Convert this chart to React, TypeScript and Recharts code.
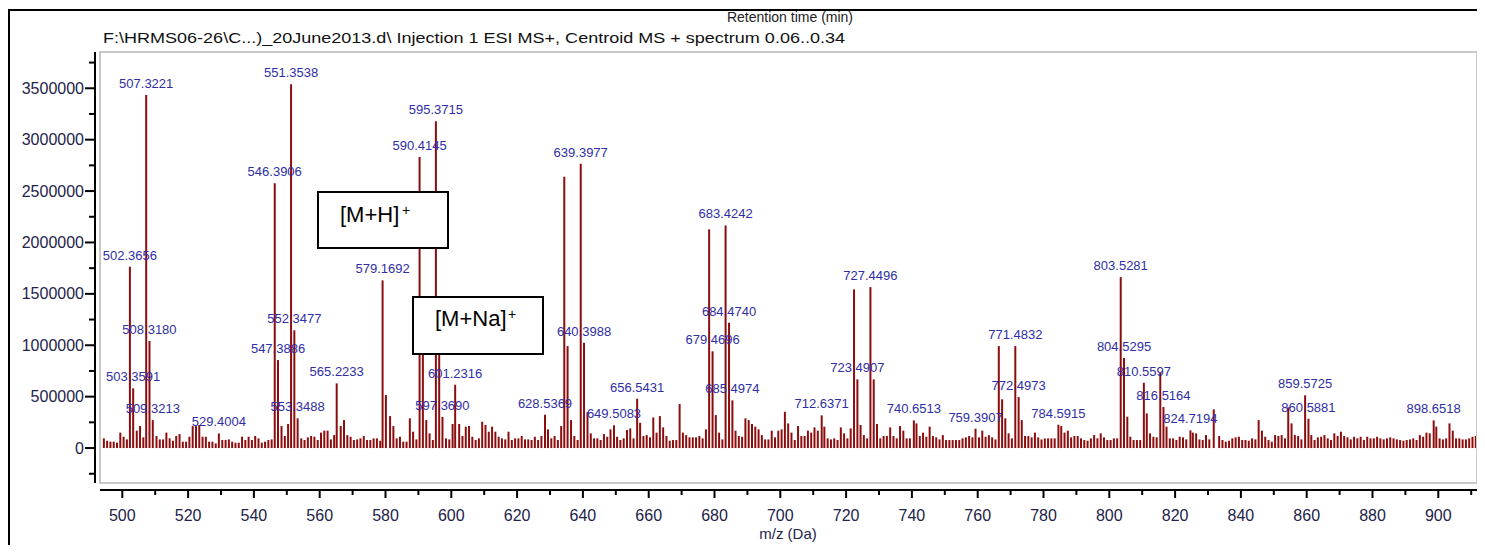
import { ComposedChart, Bar, XAxis, YAxis, LabelList } from 'recharts'

// small sticks, one per nominal mass starting at 494 (intensity in thousands, 0 = a main peak sits there)
const NOISE_FROM = 494
const NOISE_K = [
  94, 71, 62, 62, 52, 150, 110, 84, 0, 0,
  169, 214, 104, 0, 0, 0, 117, 84, 84, 150,
  94, 71, 117, 136, 62, 62, 110, 214, 214, 224,
  110, 110, 62, 62, 45, 0, 78, 78, 84, 62,
  52, 52, 110, 78, 110, 78, 117, 94, 52, 62,
  78, 84, 0, 0, 214, 117, 234, 0, 0, 0,
  94, 78, 104, 117, 110, 78, 150, 169, 169, 84,
  126, 0, 214, 272, 126, 110, 78, 84, 94, 117,
  78, 78, 94, 94, 71, 0, 0, 311, 214, 94,
  110, 62, 62, 289, 159, 84, 0, 0, 272, 143,
  78, 0, 0, 0, 94, 84, 234, 0, 234, 117,
  208, 214, 110, 78, 94, 256, 224, 159, 208, 159,
  110, 94, 84, 159, 78, 94, 94, 117, 84, 84,
  78, 110, 78, 117, 0, 182, 94, 117, 78, 214,
  0, 0, 272, 117, 78, 0, 0, 350, 143, 94,
  94, 78, 136, 110, 182, 0, 110, 78, 94, 175,
  191, 94, 0, 246, 117, 126, 104, 298, 150, 311,
  201, 117, 71, 78, 78, 428, 150, 126, 104, 104,
  104, 117, 94, 182, 0, 0, 321, 150, 84, 0,
  0, 0, 169, 117, 110, 289, 272, 234, 208, 182,
  126, 84, 84, 169, 104, 169, 182, 353, 240, 150,
  78, 214, 117, 117, 169, 150, 201, 169, 0, 208,
  94, 84, 94, 78, 201, 143, 94, 191, 0, 0,
  224, 126, 94, 0, 0, 234, 94, 117, 117, 201,
  117, 94, 214, 169, 94, 94, 0, 240, 117, 150,
  110, 208, 117, 104, 84, 126, 78, 78, 78, 78,
  78, 94, 104, 117, 104, 0, 104, 169, 110, 126,
  104, 84, 0, 0, 289, 143, 94, 0, 0, 272,
  117, 117, 104, 150, 104, 84, 94, 94, 94, 94,
  0, 214, 150, 169, 104, 117, 117, 94, 78, 71,
  94, 126, 94, 143, 104, 78, 78, 94, 94, 0,
  0, 0, 110, 78, 78, 78, 0, 337, 143, 110,
  104, 0, 0, 208, 94, 94, 78, 110, 104, 84,
  0, 150, 143, 84, 78, 126, 84, 0, 0, 117,
  78, 62, 71, 94, 104, 110, 78, 78, 71, 94,
  84, 272, 169, 110, 78, 62, 126, 117, 126, 94,
  396, 240, 126, 117, 84, 0, 0, 126, 78, 104,
  110, 126, 94, 78, 143, 117, 159, 117, 104, 84,
  110, 94, 110, 78, 110, 94, 94, 110, 94, 84,
  94, 104, 94, 84, 78, 71, 78, 84, 94, 78,
  126, 110, 150, 143, 0, 208, 94, 84, 94, 240,
  169, 94, 94, 84, 84, 94, 110, 117,
]

// labelled peaks
const LABELED_MZ = [
  502.3656, 503.3591, 507.3221, 508.318, 509.3213, 529.4004, 546.3906, 547.3886, 551.3538, 552.3477,
  553.3488, 565.2233, 579.1692, 590.4145, 595.3715, 597.369, 601.2316, 628.5369, 639.3977, 640.3988,
  649.5083, 656.5431, 679.4696, 683.4242, 684.474, 685.4974, 712.6371, 723.4907, 727.4496, 740.6513,
  759.3907, 771.4832, 772.4973, 784.5915, 803.5281, 804.5295, 810.5597, 816.5164, 824.7194, 859.5725,
  860.5881, 898.6518,
]
const LABELED_INT = [
  1764000, 581000, 3434000, 1041000, 272000, 142000, 2575000, 856000, 3538000, 1145000,
  289000, 629000, 1631000, 2831000, 3178000, 302000, 616000, 324000, 2766000, 1024000,
  221000, 480000, 941000, 2166000, 1219000, 464000, 318000, 668000, 1566000, 269000,
  188000, 992000, 496000, 227000, 1663000, 876000, 635000, 399000, 172000, 513000,
  285000, 269000,
]

// tall peaks without a visible label
const OTHER_MZ = [580.172, 591.418, 596.375, 634.395, 635.398, 678.425, 722.47, 728.451, 766.47, 767.475, 805.53, 815.55, 831.8]
const OTHER_INT = [516000, 1130000, 1160000, 2640000, 992000, 2128000, 1544000, 668000, 992000, 474000, 305000, 736000, 376000]

const X_TICKS = [500, 510, 520, 530, 540, 550, 560, 570, 580, 590, 600, 610, 620, 630, 640, 650, 660, 670, 680, 690, 700,
  710, 720, 730, 740, 750, 760, 770, 780, 790, 800, 810, 820, 830, 840, 850, 860, 870, 880, 890, 900, 910]
const Y_TICKS = [-250000, 0, 250000, 500000, 750000, 1000000, 1250000, 1500000, 1750000, 2000000, 2250000,
  2500000, 2750000, 3000000, 3250000, 3500000, 3750000]

const spectrum = [
  ...NOISE_K.map((k, i) => ({ mz: NOISE_FROM + i + 0.45, intensity: k * 1000 })).filter((d) => d.intensity > 0),
  ...OTHER_MZ.map((mz, i) => ({ mz, intensity: OTHER_INT[i] })),
  ...LABELED_MZ.map((mz, i) => ({ mz, intensity: LABELED_INT[i], label: mz.toFixed(4) })),
].sort((a, b) => a.mz - b.mz)

const FONT = "'Liberation Sans', Arial, sans-serif"
const AXIS_TEXT = '#23234a'

const XTick = (props: any) => {
  const { x, payload } = props
  const major = payload.value % 20 === 0
  return (
    <g>
      <line x1={x} x2={x} y1={482} y2={major ? 490 : 487} stroke="#000" strokeWidth={2} />
      {major && (
        <text x={x} y={513} textAnchor="middle" fontSize={16} fontFamily={FONT} fill={AXIS_TEXT}>
          {payload.value}
        </text>
      )}
    </g>
  )
}

const YTick = (props: any) => {
  const { y, payload } = props
  const major = payload.value % 500000 === 0
  return (
    <g>
      <line x1={major ? 77 : 81} x2={87} y1={y} y2={y} stroke="#000" strokeWidth={2} />
      {major && (
        <text x={76} y={y + 5.5} textAnchor="end" fontSize={16} fontFamily={FONT} fill={AXIS_TEXT}>
          {payload.value}
        </text>
      )}
    </g>
  )
}

const PeakLabel = (props: any) => {
  const { value } = props
  if (value == null) return null
  const vb = props.viewBox ?? props
  return (
    <text x={vb.x + vb.width / 2} y={vb.y - 7} textAnchor="middle" fontSize={13} fontFamily={FONT} fill="#2e2ea6">
      {value}
    </text>
  )
}

export default function App() {
  return (
    <div style={{ position: 'relative', width: 1477, height: 545, marginBottom: -8, background: '#fff' }}>
      <ComposedChart width={1477} height={545} data={spectrum} margin={{ top: 52, right: 8, bottom: 0, left: 0 }}>
        <XAxis
          type="number"
          dataKey="mz"
          domain={[493.222, 911.763]}
          allowDataOverflow
          ticks={X_TICKS}
          interval={0}
          axisLine={false}
          tickLine={false}
          tick={XTick}
          height={70}
        />
        <YAxis
          type="number"
          domain={[-340000, 3775000]}
          allowDataOverflow
          ticks={Y_TICKS}
          interval={0}
          axisLine={false}
          tickLine={false}
          tick={YTick}
          width={92}
        />
        <Bar dataKey="intensity" fill="#8c0d0d" barSize={2} isAnimationActive={false}>
          <LabelList dataKey="label" content={PeakLabel} />
        </Bar>
      </ComposedChart>

      <svg width={1477} height={545} style={{ position: 'absolute', left: 0, top: 0, overflow: 'hidden', pointerEvents: 'none' }}>
        {/* outer frame */}
        <rect x={1} y={2} width={1471} height={600} fill="none" stroke="#000" strokeWidth={2} />
        <text x={782} y={14} textAnchor="middle" fontSize={14} fontFamily={FONT} fill="#222">Retention time (min)</text>
        <text x={95} y={35} fontSize={15} fontFamily={FONT} fill="#111" textLength={742} lengthAdjust="spacingAndGlyphs">
          {'F:\\HRMS06-26\\C...)_20June2013.d\\ Injection 1 ESI MS+, Centroid MS + spectrum 0.06..0.34'}
        </text>
        {/* plot box and axis lines */}
        <rect x={92} y={44} width={1377} height={431} fill="none" stroke="#c8c8c8" strokeWidth={2} />
        <line x1={87} x2={87} y1={44} y2={475} stroke="#000" strokeWidth={2} />
        <line x1={92} x2={1469} y1={482} y2={482} stroke="#000" strokeWidth={2} />
        <text x={780} y={531} textAnchor="middle" fontSize={15} fontFamily={FONT} fill={AXIS_TEXT}>m/z (Da)</text>
        {/* annotation boxes */}
        <rect x={310} y={184} width={130} height={56} fill="#fff" stroke="#000" strokeWidth={2} />
        <text x={332} y={214} fontSize={22} fontFamily={FONT} fill="#000">[M+H]</text>
        <text x={394} y={207} fontSize={14} fontFamily={FONT} fill="#000">+</text>
        <rect x={405} y={289} width={130} height={57} fill="#fff" stroke="#000" strokeWidth={2} />
        <text x={427} y={318} fontSize={22} fontFamily={FONT} fill="#000">[M+Na]</text>
        <text x={500} y={311} fontSize={14} fontFamily={FONT} fill="#000">+</text>
      </svg>
    </div>
  )
}
